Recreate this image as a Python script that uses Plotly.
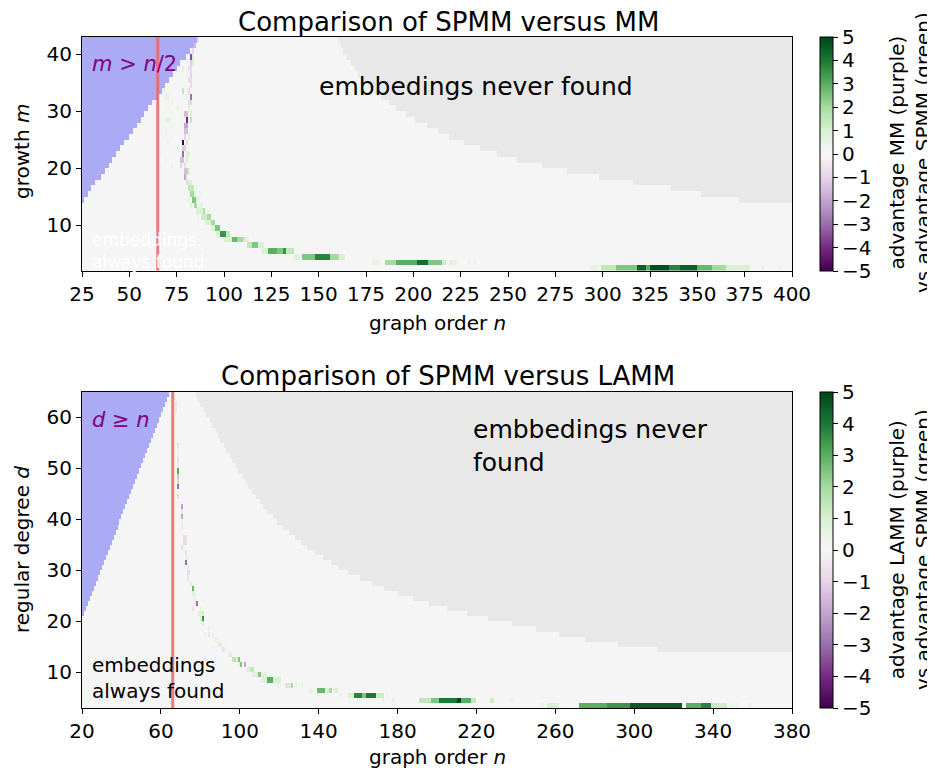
import numpy as np
import plotly.graph_objects as go
from plotly.subplots import make_subplots

# ---------------- SPMM versus MM (top panel) ----------------
mm_n = list(range(25, 400))          # graph order n (cell lower edges)
mm_m = list(range(2, 43))            # growth m (cell lower edges)
mm_blue_rows = list(range(14, 43))   # rows where m > n/2 is hit
mm_blue_before = [26, 28, 30, 32, 35, 37, 39, 41, 43, 45, 47, 50, 52, 54, 56,
                  58, 60, 62, 65, 67, 69, 71, 73, 75, 77, 80, 82, 84, 86]
mm_never_rows = list(range(14, 43))  # rows where embeddings are never found
mm_never_from = [372, 352, 336, 316, 298, 281, 268, 255, 244, 235, 227, 219, 213,
                 207, 201, 196, 191, 187, 183, 179, 176, 173, 171, 169, 167, 165,
                 163, 162, 160]
mm_cutoff = 65
# (m, first n, last n, advantage)
mm_band = [
    (42, 86, 86, -0.8),
    (41, 84, 84, -1.5), (41, 85, 85, 0.6),
    (40, 83, 83, -1.0),
    (39, 82, 82, -3.5), (39, 83, 83, 0.8),
    (38, 80, 80, 0.5), (38, 82, 82, -1.2), (38, 83, 83, 1.0),
    (37, 78, 78, 0.7), (37, 81, 82, -0.8),
    (36, 80, 80, 0.5), (36, 82, 82, -1.0),
    (35, 81, 82, -0.8),
    (34, 73, 73, 0.5), (34, 82, 82, -0.8),
    (33, 68, 68, 0.6), (33, 78, 78, 1.5), (33, 81, 81, -0.8),
    (32, 69, 70, 0.6), (32, 80, 80, 0.8), (32, 82, 82, -3.0),
    (31, 72, 72, 0.5), (31, 81, 82, -1.0),
    (30, 70, 70, 0.5), (30, 75, 75, 0.5), (30, 81, 81, 0.8),
    (29, 79, 80, -1.5), (29, 82, 82, 1.0),
    (28, 69, 71, 0.6), (28, 77, 77, 0.6), (28, 80, 80, -4.0), (28, 82, 82, 1.5),
    (27, 72, 72, 0.5), (27, 79, 80, -2.0),
    (26, 69, 69, 0.5), (26, 74, 74, 0.5), (26, 79, 80, -1.5),
    (25, 79, 79, -1.0), (25, 81, 81, 0.8),
    (24, 70, 70, 0.5), (24, 78, 78, -5.0), (24, 80, 80, -1.0),
    (23, 75, 75, 0.5), (23, 78, 79, -1.2),
    (22, 78, 78, -3.0), (22, 80, 81, 1.0),
    (21, 69, 69, 0.5), (21, 77, 78, -1.5), (21, 80, 80, 1.0),
    (20, 72, 72, 0.5), (20, 77, 77, -0.8), (20, 79, 79, 1.2),
    (19, 79, 80, -1.5), (19, 81, 81, 1.0),
    (18, 79, 79, -2.0), (18, 80, 80, 0.8),
    (17, 80, 80, -1.0), (17, 81, 82, 1.0),
    (16, 81, 83, 1.5), (16, 85, 85, 0.5),
    (15, 82, 83, 2.0), (15, 84, 84, 0.8), (15, 87, 87, 0.6),
    (14, 81, 81, 0.6), (14, 83, 84, 2.5), (14, 86, 86, 0.8),
    (13, 82, 82, 0.8), (13, 84, 85, 2.0), (13, 87, 88, 0.7),
    (12, 85, 88, 1.0), (12, 89, 89, 1.8),
    (11, 86, 86, 0.6), (11, 88, 90, 1.2), (11, 91, 92, 2.0),
    (10, 90, 92, 0.8), (10, 93, 94, 2.0),
    (9, 93, 94, 1.0), (9, 95, 97, 2.5),
    (8, 96, 97, 1.0), (8, 98, 100, 3.5), (8, 101, 102, 1.5),
    (7, 100, 103, 1.0), (7, 104, 106, 2.8), (7, 107, 109, 2.0), (7, 110, 110, -1.0),
    (7, 111, 112, 0.8),
    (6, 112, 114, 1.5), (6, 115, 117, 2.5), (6, 118, 120, 1.0),
    (5, 120, 122, 1.0), (5, 123, 127, 3.0), (5, 128, 130, 2.5), (5, 131, 132, 3.5),
    (5, 133, 136, 1.5),
    (4, 137, 139, 0.8), (4, 141, 147, 2.5), (4, 148, 155, 3.8), (4, 156, 160, 2.0),
    (4, 161, 163, 1.0),
    (3, 178, 181, 0.6), (3, 185, 190, 2.0), (3, 191, 201, 3.0), (3, 202, 207, 4.2),
    (3, 208, 214, 2.5), (3, 215, 216, 1.2), (3, 219, 222, 0.7), (3, 229, 229, 0.6),
    (3, 232, 232, 0.6),
    (2, 294, 297, 0.6), (2, 299, 306, 1.5), (2, 307, 317, 2.5), (2, 318, 322, 4.5),
    (2, 323, 324, 3.0), (2, 325, 334, 4.8), (2, 335, 340, 3.8), (2, 341, 349, 4.5),
    (2, 350, 357, 2.8), (2, 358, 364, 2.0), (2, 365, 377, 1.0), (2, 384, 384, 0.7),
    (2, 393, 393, 0.5),
]

# ---------------- SPMM versus LAMM (bottom panel) ----------------
lamm_n = list(range(20, 380))
lamm_d = list(range(3, 65))
lamm_never_rows = list(range(14, 65))
lamm_never_from = [312, 292, 275, 262, 250, 238, 226, 215, 205, 196, 188, 180, 173,
                   167, 161, 155, 150, 146, 142, 138, 134, 131, 128, 125, 122, 119,
                   117, 114, 112, 110, 108, 106, 104, 103, 101, 99, 98, 96, 95, 93,
                   92, 90, 89, 88, 86, 85, 83, 82, 80, 79, 78]
lamm_cutoff = 66
lamm_band = [
    (62, 67, 67, -0.6), (61, 67, 67, -0.6),
    (54, 68, 68, -0.8), (52, 68, 68, 0.6), (51, 68, 68, -0.8), (50, 68, 68, 0.8),
    (49, 68, 68, 3.0), (48, 68, 68, -1.5), (47, 68, 68, 1.5), (46, 68, 68, -3.0),
    (44, 68, 68, -0.8),
    (42, 70, 70, -2.0), (41, 70, 70, -0.6), (40, 70, 70, -2.0), (39, 70, 70, 0.6),
    (38, 70, 70, -0.6),
    (36, 71, 72, -0.8), (35, 71, 72, -0.8), (34, 70, 70, 1.0), (34, 71, 71, 0.5),
    (33, 72, 72, -0.8), (32, 72, 73, 0.5), (31, 72, 72, -3.0), (30, 73, 73, 0.8),
    (29, 73, 74, -0.8), (28, 73, 73, -0.6), (27, 75, 75, 0.8), (26, 76, 76, 2.8),
    (25, 76, 76, 0.8), (25, 77, 77, 0.5), (24, 77, 77, 0.6),
    (23, 77, 77, 0.6), (23, 78, 78, -3.0),
    (22, 76, 76, -0.6), (22, 80, 80, 0.6),
    (21, 79, 80, 0.8), (21, 81, 81, 1.2),
    (20, 80, 80, 1.0), (20, 81, 81, 3.5),
    (19, 81, 81, 1.0), (18, 84, 84, 0.6),
    (17, 82, 82, 0.5), (17, 84, 84, -0.6), (17, 86, 86, 0.6),
    (16, 87, 88, 0.6), (15, 89, 90, 0.8),
    (14, 91, 91, -0.8), (14, 92, 92, 0.6),
    (13, 94, 95, 0.8),
    (12, 96, 97, 1.5), (12, 98, 98, 0.8), (12, 99, 99, 2.5),
    (11, 99, 99, 0.6), (11, 100, 100, 2.5), (11, 102, 102, -2.0),
    (10, 103, 104, 0.8), (10, 105, 106, 1.5),
    (9, 106, 108, 0.8), (9, 109, 110, 2.5), (9, 111, 113, 0.8),
    (8, 111, 113, 0.8), (8, 114, 116, 3.0), (8, 117, 120, 1.0),
    (7, 119, 120, 0.5), (7, 123, 125, -0.8), (7, 126, 126, 2.0), (7, 128, 128, 0.6),
    (7, 131, 131, 0.6),
    (6, 135, 136, 0.6), (6, 139, 142, 2.8), (6, 143, 144, 0.8), (6, 145, 146, 2.0),
    (6, 148, 149, 1.0),
    (5, 151, 151, 0.4), (5, 155, 157, 1.0), (5, 158, 161, 3.8), (5, 162, 163, 2.5),
    (5, 164, 168, 4.0), (5, 169, 172, 1.2), (5, 174, 174, 0.5),
    (4, 172, 172, 0.5), (4, 177, 177, 0.6), (4, 191, 196, 1.5), (4, 197, 200, 2.5),
    (4, 201, 209, 4.0), (4, 210, 211, 5.0), (4, 212, 216, 3.0), (4, 217, 219, 1.5),
    (4, 227, 228, 1.2), (4, 237, 238, 0.5),
    (3, 252, 253, 0.5), (3, 256, 261, 1.0), (3, 272, 285, 3.0), (3, 286, 297, 3.5),
    (3, 298, 323, 4.6), (3, 326, 333, 3.0), (3, 334, 338, 3.8), (3, 339, 346, 1.2),
    (3, 348, 352, 0.5), (3, 358, 358, 0.8),
]

ALWAYS = "#f5f5f5"
NEVER = "#e8e8e8"
BLUE = "rgb(170,170,245)"
FONT = "DejaVu Sans"


def region_grid(cols, rows, blue_before, never_from):
    # 0 = always found, 1 = never found, 2 = infeasible
    z = np.zeros((len(rows), len(cols)))
    c = np.array(cols)
    for i, r in enumerate(rows):
        if r in blue_before:
            z[i, c < blue_before[r]] = 2
        if r in never_from:
            z[i, c >= never_from[r]] = 1
    return z


def band_grid(cols, rows, band):
    z = np.full((len(rows), len(cols)), np.nan)
    for r, a, b, v in band:
        z[rows.index(r), cols.index(a):cols.index(b) + 1] = v
    return z


region_scale = [[0, ALWAYS], [0.25, ALWAYS], [0.25, NEVER], [0.75, NEVER],
                [0.75, BLUE], [1, BLUE]]

mm_bg = region_grid(mm_n, mm_m, dict(zip(mm_blue_rows, mm_blue_before)),
                    dict(zip(mm_never_rows, mm_never_from)))
mm_z = band_grid(mm_n, mm_m, mm_band)
# d >= n region: every cell left of the diagonal
lamm_bg = region_grid(lamm_n, lamm_d, {d: d for d in lamm_d},
                      dict(zip(lamm_never_rows, lamm_never_from)))
lamm_z = band_grid(lamm_n, lamm_d, lamm_band)

# the page puts the figure 8px in from the window corner,
# so everything below is in window pixels minus that offset
OFF = 8
W, H = 935 - OFF, 775 - OFF
L, R, T, B = 82 - OFF, 792 - OFF, 37 - OFF, 708 - OFF


def px(x):
    return (x - OFF - L) / (R - L)


def py(y):
    return (B - (y - OFF)) / (B - T)


fig = make_subplots(rows=2, cols=1)

panels = [
    (mm_n, mm_m, mm_bg, mm_z, 1, 1.0, 234),
    (lamm_n, lamm_d, lamm_bg, lamm_z, 2, py(392), 316),
]
for cols, rows, bg, z, row, cb_top, cb_len in panels:
    xc = [c + 0.5 for c in cols]
    yc = [r + 0.5 for r in rows]
    fig.add_trace(
        go.Heatmap(z=bg, x=xc, y=yc, colorscale=region_scale, zmin=0, zmax=2,
                   showscale=False, hoverinfo="skip"),
        row=row, col=1,
    )
    fig.add_trace(
        go.Heatmap(
            z=z, x=xc, y=yc, colorscale="PRGn", zmin=-5, zmax=5,
            colorbar=dict(
                thickness=13, x=px(820), xanchor="left", xpad=0, ypad=0,
                y=cb_top, yanchor="top", lenmode="pixels", len=cb_len,
                outlinewidth=1, outlinecolor="black",
                ticks="outside", ticklen=5, tickwidth=1.2, tickcolor="black",
                tickvals=list(range(-5, 6)), tickfont=dict(size=20),
            ),
        ),
        row=row, col=1,
    )

fig.add_shape(type="line", x0=mm_cutoff, x1=mm_cutoff, y0=0, y1=1,
              xref="x", yref="y domain",
              line=dict(color="rgba(240,100,100,0.85)", width=3))
fig.add_shape(type="line", x0=lamm_cutoff, x1=lamm_cutoff, y0=0, y1=1,
              xref="x2", yref="y2 domain",
              line=dict(color="rgba(240,100,100,0.85)", width=3))

axis_style = dict(showline=True, linecolor="black", linewidth=1.2, mirror=True,
                  ticks="outside", ticklen=5, tickwidth=1.2, tickcolor="black",
                  showgrid=False, zeroline=False, tickfont=dict(size=20))
fig.update_xaxes(**axis_style)
fig.update_yaxes(**axis_style)
fig.update_layout(
    xaxis=dict(domain=[0, 1], range=[25, 400], tickvals=list(range(25, 401, 25))),
    yaxis=dict(domain=[py(270.6), 1], range=[2, 43], tickvals=[10, 20, 30, 40]),
    xaxis2=dict(domain=[0, 1], range=[20, 380], tickvals=list(range(20, 381, 40))),
    yaxis2=dict(domain=[0, py(392)], range=[3, 65],
                tickvals=[10, 20, 30, 40, 50, 60]),
)

ann = [
    # titles
    dict(text="Comparison of SPMM versus MM", x=px(448), y=py(22), size=26),
    dict(text="Comparison of SPMM versus LAMM", x=px(448), y=py(376), size=26),
    # axis titles
    dict(text="graph order <i>n</i>", x=px(437), y=py(323), size=20),
    dict(text="graph order <i>n</i>", x=px(437), y=py(757), size=20),
    dict(text="growth <i>m</i>", x=px(22), y=py(152), size=20, angle=-90),
    dict(text="regular degree <i>d</i>", x=px(22), y=py(550), size=20, angle=-90),
    # colorbar titles
    dict(text="advantage MM (purple)<br>vs advantage SPMM (green)",
         x=px(910), y=py(153), size=20, angle=-90),
    dict(text="advantage LAMM (purple)<br>vs advantage SPMM (green)",
         x=px(910), y=py(550), size=20, angle=-90),
]
for a in ann:
    fig.add_annotation(text=a["text"], x=a["x"], y=a["y"], xref="paper",
                       yref="paper", showarrow=False, textangle=a.get("angle", 0),
                       xanchor="center", yanchor="middle",
                       font=dict(family=FONT, size=a["size"], color="black"))

notes = [
    ("<i>m</i> > <i>n</i>/2", 29, 38.2, "x", "y", 21, "purple"),
    ("embbedings never found", 149, 34.4, "x", "y", 25, "black"),
    ("embeddings<br>always found", 29, 5.5, "x", "y", 17, "white"),
    ("<i>d</i> ≥ <i>n</i>", 24, 59.5, "x2", "y2", 21, "purple"),
    ("embbedings never<br>found", 217, 54.4, "x2", "y2", 25, "black"),
    ("embeddings<br>always found", 24, 8.9, "x2", "y2", 20, "black"),
]
for text, x, y, xr, yr, size, color in notes:
    fig.add_annotation(text=text, x=x, y=y, xref=xr, yref=yr, showarrow=False,
                       xanchor="left", yanchor="middle", align="left",
                       font=dict(family=FONT, size=size, color=color))

fig.update_layout(
    width=W, height=H,
    margin=dict(l=L, r=W - R, t=T, b=H - B, autoexpand=False),
    plot_bgcolor="white", paper_bgcolor="white",
    font=dict(family=FONT, size=20, color="black"),
    showlegend=False,
)

fig.write_html("out.html")
